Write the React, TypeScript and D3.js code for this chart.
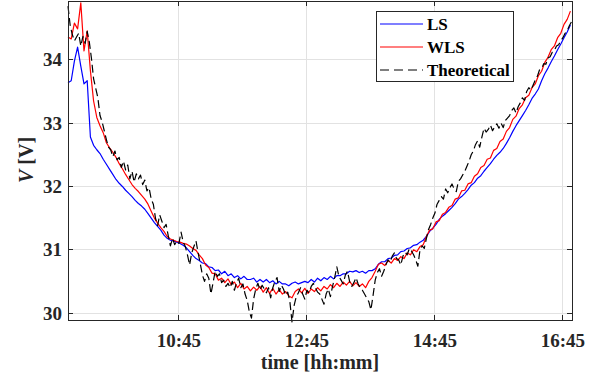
import React from "react";
import * as d3 from "d3";

// Sample times in minutes after midnight (first sample 09:01)
const startMinute = 541;
const estimateStepMinutes = 3; // LS / WLS estimates
const theoreticalStepMinutes = 2; // theoretical values

const lsValues = [
  33.64, 33.67, 33.98, 34.2, 33.9, 33.62, 33.67, 32.78, 32.65, 32.58,
  32.52, 32.43, 32.35, 32.27, 32.19, 32.11, 32.05, 32.0, 31.94, 31.89,
  31.84, 31.78, 31.73, 31.69, 31.64, 31.57, 31.5, 31.43, 31.37, 31.31,
  31.23, 31.18, 31.15, 31.14, 31.12, 31.1, 31.07, 31.03, 30.97, 30.91,
  30.86, 30.83, 30.79, 30.78, 30.73, 30.72, 30.67, 30.68, 30.62, 30.66,
  30.59, 30.62, 30.56, 30.59, 30.54, 30.58, 30.53, 30.53, 30.55, 30.49,
  30.53, 30.49, 30.53, 30.48, 30.51, 30.46, 30.5, 30.46, 30.46, 30.43,
  30.47, 30.49, 30.46, 30.48, 30.5, 30.48, 30.53, 30.49, 30.55, 30.51,
  30.56, 30.53, 30.58, 30.54, 30.59, 30.59, 30.62, 30.62, 30.66, 30.65,
  30.67, 30.64, 30.66, 30.63, 30.67, 30.67, 30.7, 30.77, 30.81, 30.81,
  30.86, 30.87, 30.91, 30.92, 30.97, 30.98, 31.02, 31.03, 31.07, 31.08,
  31.12, 31.15, 31.21, 31.29, 31.34, 31.4, 31.48, 31.53, 31.57, 31.62,
  31.67, 31.73, 31.8, 31.84, 31.89, 31.95, 32.02, 32.06, 32.13, 32.17,
  32.24, 32.3, 32.36, 32.43, 32.49, 32.54, 32.6, 32.68, 32.77, 32.87,
  32.96, 33.04, 33.12, 33.2, 33.29, 33.39, 33.46, 33.54, 33.67, 33.78,
  33.87, 33.97, 34.06, 34.16, 34.25, 34.35, 34.44, 34.55,
];

const wlsValues = [
  34.36, 34.33, 34.58, 34.49, 34.9, 34.14, 34.46, 33.83, 33.35, 33.09,
  32.96, 32.85, 32.69, 32.61, 32.54, 32.46, 32.36, 32.28, 32.19, 32.11,
  32.03, 31.97, 31.92, 31.86, 31.8, 31.72, 31.61, 31.5, 31.42, 31.35,
  31.29, 31.21, 31.17, 31.15, 31.13, 31.12, 31.1, 31.09, 31.06, 31.02,
  30.99, 30.92, 30.86, 30.76, 30.72, 30.63, 30.62, 30.52, 30.55, 30.48,
  30.54, 30.45, 30.49, 30.4, 30.47, 30.38, 30.42, 30.35, 30.41, 30.36,
  30.42, 30.33, 30.4, 30.31, 30.39, 30.3, 30.37, 30.3, 30.34, 30.27,
  30.24, 30.34, 30.38, 30.32, 30.39, 30.31, 30.38, 30.34, 30.4, 30.35,
  30.42, 30.38, 30.45, 30.4, 30.47, 30.42, 30.49, 30.44, 30.5, 30.43,
  30.48, 30.42, 30.46, 30.4, 30.5, 30.56, 30.66, 30.77, 30.79, 30.75,
  30.83, 30.79, 30.86, 30.83, 30.89, 30.86, 30.95, 30.92, 31.0, 30.97,
  31.05, 31.08, 31.21, 31.31, 31.33, 31.44, 31.46, 31.56, 31.59, 31.67,
  31.7, 31.8, 31.82, 31.93, 31.94, 32.04, 32.06, 32.16, 32.2, 32.3,
  32.33, 32.43, 32.45, 32.57, 32.6, 32.71, 32.75, 32.87, 32.93, 33.06,
  33.11, 33.23, 33.29, 33.4, 33.44, 33.56, 33.62, 33.75, 33.82, 33.96,
  34.04, 34.16, 34.22, 34.35, 34.42, 34.56, 34.64, 34.77,
];

const theoreticalValues = [
  34.85, 34.55, 34.4, 34.3, 34.36, 34.42, 34.22, 34.37, 34.26, 34.45,
  34.28, 34.02, 33.7, 33.55, 33.4, 33.12, 33.02, 32.88, 32.74, 32.62,
  32.58, 32.47, 32.56, 32.42, 32.46, 32.3, 32.4, 32.26, 32.34, 32.12,
  32.24, 32.07, 32.2, 32.12, 32.18, 32.03, 32.1, 31.93, 31.98, 31.8,
  31.72, 31.5, 31.38, 31.55, 31.45, 31.35, 31.4, 31.22, 31.06, 31.18,
  31.08, 31.14, 31.1, 31.28, 31.12, 31.05, 30.92, 30.76, 30.95, 31.05,
  31.14, 30.95, 30.78, 30.6, 30.5, 30.62, 30.55, 30.3, 30.48, 30.66,
  30.58, 30.62, 30.48, 30.52, 30.42, 30.47, 30.4, 30.5, 30.36, 30.48,
  30.55, 30.4, 30.46, 30.3, 30.2, 30.02, 29.92, 30.22, 30.38, 30.47,
  30.36, 30.44, 30.38, 30.32, 30.4, 30.24, 30.4, 30.5, 30.56, 30.34,
  30.44, 30.38, 30.28, 30.33, 30.18, 29.86, 30.12, 30.26, 30.32, 30.4,
  30.3, 30.22, 30.36, 30.32, 30.42, 30.47, 30.4, 30.33, 30.3, 30.22,
  30.14, 30.3, 30.38, 30.26, 30.42, 30.56, 30.73, 30.58, 30.52, 30.46,
  30.6, 30.66, 30.5, 30.42, 30.48, 30.56, 30.46, 30.4, 30.36, 30.3,
  30.24, 30.18, 30.05, 30.28, 30.52, 30.64, 30.7, 30.58, 30.66, 30.76,
  30.84, 30.8, 30.9, 30.95, 30.86, 30.84, 30.76, 30.9, 30.96, 30.92,
  31.02, 30.98, 30.92, 30.84, 30.74, 31.0, 31.06, 31.02, 31.18, 31.32,
  31.4, 31.5, 31.58, 31.72, 31.78, 31.84, 31.8, 31.96, 31.9, 31.98,
  32.04, 31.96, 31.92, 32.08, 32.12, 32.18, 32.24, 32.32, 32.4, 32.5,
  32.56, 32.66, 32.72, 32.62, 32.78, 32.92, 32.86, 32.9, 32.97, 32.88,
  32.94, 32.99, 32.92, 33.0, 32.93, 33.04, 33.08, 33.12, 33.2, 33.24,
  33.16, 33.26, 33.32, 33.4, 33.36, 33.5, 33.56, 33.52, 33.6, 33.68,
  33.74, 33.84, 33.86, 33.94, 33.93, 34.03, 34.05, 34.12, 34.15, 34.22,
  34.24, 34.3, 34.35, 34.42, 34.46, 34.54, 34.6,
];

const xTickMinutes = [645, 765, 885, 1005];
const xTickLabels = ["10:45", "12:45", "14:45", "16:45"];
const yTickValues = [30, 31, 32, 33, 34];

const seriesNames = ["LS", "WLS", "Theoretical"];
const seriesColors = ["#0000ff", "#ff0000", "#000000"];

const W = 608;
const H = 381;
const left = 68;
const right = 572;
const top = 1;
const bottom = 320;
const FONT = "'Liberation Serif', 'Times New Roman', serif";
const AX = "#262626";

type Pt = { t: number; v: number };

export default function App() {
  const x = d3.scaleLinear().domain([541, 1013.5]).range([left, right]);
  const y = d3.scaleLinear().domain([29.89, 34.93]).range([bottom, top]);

  const mk = (vals: number[], step: number): Pt[] =>
    vals.map((v, i) => ({ t: startMinute + i * step, v }));
  const line = d3
    .line<Pt>()
    .x((d) => x(d.t))
    .y((d) => y(d.v));

  const ls = mk(lsValues, estimateStepMinutes);
  const wls = mk(wlsValues, estimateStepMinutes);
  const theo = mk(theoreticalValues, theoreticalStepMinutes);
  const tickLen = 5;

  return (
    <svg
      width={W}
      height={H}
      style={{ position: "absolute", left: 0, top: 0, background: "#fff", fontFamily: FONT }}
    >
      <rect x={0} y={0} width={W} height={H} fill="#fff" />
      <g stroke="#e2e2e2" strokeWidth={1} shapeRendering="crispEdges">
        {xTickMinutes.map((t) => (
          <line key={"gx" + t} x1={x(t)} x2={x(t)} y1={top} y2={bottom} />
        ))}
        {yTickValues.map((v) => (
          <line key={"gy" + v} x1={left} x2={right} y1={y(v)} y2={y(v)} />
        ))}
      </g>
      <g fill="none" strokeLinejoin="round">
        <path d={line(ls) || ""} stroke={seriesColors[0]} strokeWidth={1.2} />
        <path d={line(wls) || ""} stroke={seriesColors[1]} strokeWidth={1.2} />
        <path
          d={line(theo) || ""}
          stroke={seriesColors[2]}
          strokeWidth={1.2}
          strokeDasharray="8,4"
        />
      </g>
      <g stroke={AX} strokeWidth={1} shapeRendering="crispEdges" fill="none">
        <rect x={left} y={top} width={right - left} height={bottom - top} />
        {xTickMinutes.map((t) => (
          <g key={"tx" + t}>
            <line x1={x(t)} x2={x(t)} y1={bottom} y2={bottom - tickLen} />
            <line x1={x(t)} x2={x(t)} y1={top} y2={top + tickLen} />
          </g>
        ))}
        {yTickValues.map((v) => (
          <g key={"ty" + v}>
            <line x1={left} x2={left + tickLen} y1={y(v)} y2={y(v)} />
            <line x1={right} x2={right - tickLen} y1={y(v)} y2={y(v)} />
          </g>
        ))}
      </g>
      <g fill={AX} fontSize={19} fontWeight="bold" style={{ fontFamily: FONT }}>
        {xTickMinutes.map((t, i) => (
          <text key={"lx" + t} x={x(t)} y={347} textAnchor="middle">
            {xTickLabels[i]}
          </text>
        ))}
        {yTickValues.map((v) => (
          <text key={"ly" + v} x={62} y={y(v) + 6.5} textAnchor="end">
            {v}
          </text>
        ))}
      </g>
      <text
        x={320}
        y={369}
        textAnchor="middle"
        fontSize={20}
        fontWeight="bold"
        fill={AX}
        style={{ fontFamily: FONT }}
      >
        time [hh:mm]
      </text>
      <text
        transform="translate(33,160) rotate(-90)"
        textAnchor="middle"
        fontSize={20}
        fontWeight="bold"
        fill={AX}
        style={{ fontFamily: FONT }}
      >
        <tspan fontStyle="italic">V</tspan>
        <tspan> [V]</tspan>
      </text>
      <g>
        <rect
          x={376}
          y={11}
          width={137}
          height={70}
          fill="#fff"
          stroke={AX}
          strokeWidth={1}
          shapeRendering="crispEdges"
        />
        {seriesNames.map((name, i) => {
          const ly = 24 + i * 23;
          return (
            <g key={name}>
              <line
                x1={380}
                x2={423}
                y1={ly}
                y2={ly}
                stroke={seriesColors[i]}
                strokeWidth={1.2}
                strokeDasharray={i === 2 ? "9,5" : undefined}
              />
              <text
                x={427}
                y={ly + 6}
                fontSize={17}
                fontWeight="bold"
                fill="#000"
                style={{ fontFamily: FONT }}
              >
                {name}
              </text>
            </g>
          );
        })}
      </g>
    </svg>
  );
}
